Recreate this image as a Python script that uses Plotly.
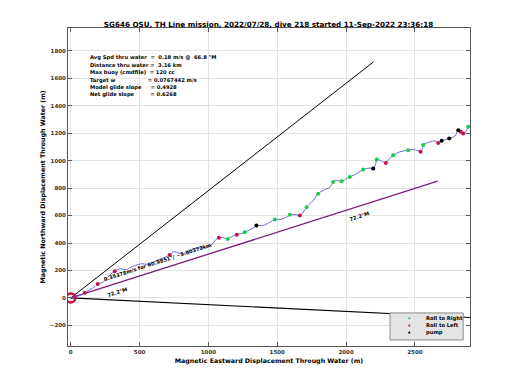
import plotly.graph_objects as go

# ---- data ----
track_x = [0, 29, 65, 102, 138, 174, 196, 225, 254, 283, 320, 342, 371, 400, 429, 472, 516, 552, 589, 632, 676, 719,
           749, 778, 814, 850, 901, 952, 996, 1025, 1054, 1076, 1105, 1141, 1170, 1206, 1235, 1264, 1301, 1330, 1349,
           1397, 1446, 1482, 1519, 1567, 1591, 1640, 1664, 1688, 1713, 1737, 1761, 1797, 1833, 1882, 1906, 1931, 1967,
           2003, 2027, 2076, 2124, 2173, 2197, 2216, 2222, 2245, 2270, 2289, 2306, 2342, 2391, 2451, 2487, 2524, 2541,
           2556, 2560, 2609, 2645, 2669, 2694, 2749, 2791, 2815, 2832, 2851, 2870, 2887, 2900]
track_y = [0, 7, 18, 37, 59, 81, 102, 110, 132, 168, 194, 209, 212, 205, 220, 238, 249, 245, 256, 278, 293, 313,
           337, 329, 322, 337, 359, 366, 373, 388, 425, 439, 439, 430, 447, 461, 468, 478, 498, 512, 527,
           527, 551, 571, 571, 588, 605, 605, 600, 624, 661, 686, 710, 759, 783, 807, 844, 856, 849,
           869, 881, 905, 935, 946, 942, 979, 1008, 1003, 990, 983, 1003, 1039, 1064, 1076, 1081, 1071, 1064,
           1088, 1113, 1137, 1144, 1129, 1144, 1162, 1179, 1222, 1210, 1198, 1210, 1247, 1252]

roll_right_x = [1141, 1264, 1482, 1591, 1713, 1797, 1906, 1967, 2027, 2124, 2222, 2342, 2451, 2560, 2887]
roll_right_y = [430, 478, 571, 605, 661, 759, 844, 849, 881, 935, 1008, 1039, 1076, 1113, 1247]
roll_left_x = [102, 196, 320, 719, 1076, 1206, 1664, 2289, 2541, 2669, 2832, 2851]
roll_left_y = [37, 102, 194, 313, 439, 461, 600, 983, 1064, 1129, 1210, 1198]
pump_x = [1349, 2197, 2694, 2749, 2815]
pump_y = [527, 942, 1144, 1162, 1222]

start_x = [0]
start_y = [0]

glide_line_x = [0, 2200]
glide_line_y = [0, 1720]
current_line_x = [0, 2950]
current_line_y = [0, -145]
heading_line_x = [0, 2665]
heading_line_y = [0, 851]

x_ticks = [0, 500, 1000, 1500, 2000, 2500]
y_ticks = [-200, 0, 200, 400, 600, 800, 1000, 1200, 1400, 1600, 1800]

title = "SG646 OSU, TH Line mission, 2022/07/28, dive 218 started 11-Sep-2022 23:36:18"
info_lines = [
    "Avg Spd thru water  =  0.18 m/s @  66.8 °M",
    "Distance thru water =  3.16 km",
    "Max buoy (cmdfile)  = 120 cc",
    "Target w                  = 0.0767442 m/s",
    "Model glide slope     = 0.4928",
    "Net glide slope         = 0.6268",
]
current_label = "0.35378m/s for 60.9851°/ ~3.80372km"
heading_label = "72.2°M"
legend_names = ["Roll to Right", "Roll to Left", "pump"]
GREEN, RED, BLACK = "#1fcc4a", "#c8104a", "black"
legend_colors = [GREEN, RED, BLACK]

FONT = "DejaVu Sans"
fig = go.Figure()

fig.add_trace(go.Scatter(x=glide_line_x, y=glide_line_y, mode="lines",
                         line=dict(color="black", width=1), showlegend=False, hoverinfo="skip"))
fig.add_trace(go.Scatter(x=current_line_x, y=current_line_y, mode="lines",
                         line=dict(color="black", width=1.2), showlegend=False, hoverinfo="skip"))
fig.add_trace(go.Scatter(x=heading_line_x, y=heading_line_y, mode="lines",
                         line=dict(color="#7a1a7a", width=1.3), showlegend=False, hoverinfo="skip"))
fig.add_trace(go.Scatter(x=track_x, y=track_y, mode="lines", line_shape="spline",
                         line=dict(color="#6a6ad8", width=1), showlegend=False))
fig.add_trace(go.Scatter(x=roll_right_x, y=roll_right_y, mode="markers", name=legend_names[0],
                         marker=dict(color=GREEN, size=4), showlegend=False))
fig.add_trace(go.Scatter(x=roll_left_x, y=roll_left_y, mode="markers", name=legend_names[1],
                         marker=dict(color=RED, size=4), showlegend=False))
fig.add_trace(go.Scatter(x=pump_x, y=pump_y, mode="markers", name=legend_names[2],
                         marker=dict(color=BLACK, size=4), showlegend=False))
fig.add_trace(go.Scatter(x=start_x, y=start_y, mode="markers", showlegend=False,
                         marker=dict(color=RED, size=9, symbol="circle-open", line=dict(width=2.5, color=RED))))

# info block
for i, t in enumerate(info_lines):
    fig.add_annotation(xref="paper", yref="paper", x=0.05, y=0.9066 - i * 0.0234, text=t,
                       showarrow=False, xanchor="left", yanchor="middle",
                       font=dict(family=FONT, size=5.2, color="black", weight="bold"))

fig.add_annotation(x=630, y=265, text=current_label, showarrow=False, textangle=-18,
                   font=dict(family=FONT, size=5.2, color="black", weight="bold"))
fig.add_annotation(x=340, y=44, text=heading_label, showarrow=False, textangle=-18,
                   font=dict(family=FONT, size=5.2, color="black", weight="bold"))
fig.add_annotation(x=2100, y=597, text=heading_label, showarrow=False, textangle=-18,
                   font=dict(family=FONT, size=5.2, color="black", weight="bold"))

# compact legend box (plotly's own legend has a large minimum row height)
fig.add_shape(type="rect", xref="paper", yref="paper", x0=0.801, x1=0.983, y0=0.019, y1=0.104,
              fillcolor="#e4e4e4", line=dict(color="#8a8a8a", width=1), layer="above")
for i, (nm, col) in enumerate(zip(legend_names, legend_colors)):
    yy = 0.087 - i * 0.0225
    fig.add_shape(type="circle", xref="paper", yref="paper", x0=0.8465, x1=0.8515,
                  y0=yy - 0.0035, y1=yy + 0.0035, fillcolor=col, line=dict(width=0), layer="above")
    fig.add_annotation(xref="paper", yref="paper", x=0.886, y=yy, text=nm, showarrow=False,
                       xanchor="left", yanchor="middle",
                       font=dict(family=FONT, size=5.2, color="black", weight="bold"))

axis_common = dict(showgrid=True, gridcolor="#e3e3e3", gridwidth=1, zeroline=False, automargin=False,
                   showline=True, linecolor="#555", linewidth=1, mirror="ticks",
                   ticks="inside", ticklen=4, tickcolor="#555",
                   tickfont=dict(family=FONT, size=5.5, color="#333", weight="bold"))

# the page body adds an 8 px offset, so margins are shifted to compensate
fig.update_layout(
    width=520, height=390,
    margin=dict(l=60, r=58, t=20, b=52),
    paper_bgcolor="white", plot_bgcolor="white",
    title=dict(text=title, x=0.501, xanchor="center", y=0.959, yanchor="middle",
               font=dict(family=FONT, size=7.2, color="black", weight="bold")),
    xaxis=dict(range=[-20, 2900], tickvals=x_ticks,
               title=dict(text="Magnetic Eastward Displacement Through Water (m)", standoff=4,
                          font=dict(family=FONT, size=6.3, color="black", weight="bold")),
               **axis_common),
    yaxis=dict(range=[-350, 1966], tickvals=y_ticks,
               title=dict(text="Magnetic Northward Displacement Through Water (m)", standoff=3,
                          font=dict(family=FONT, size=6.3, color="black", weight="bold")),
               **axis_common),
    showlegend=False,
)

fig.write_html("out.html")
